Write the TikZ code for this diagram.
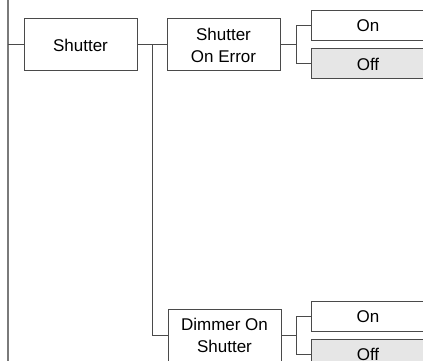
\documentclass[tikz,border=0pt]{standalone}
\usepackage{fontspec}
\setmainfont{Liberation Sans}
\definecolor{lineC}{HTML}{4A4A4A}
\definecolor{lineL}{HTML}{7A7A7A}
\definecolor{offfill}{HTML}{E6E6E6}
\begin{document}
\begin{tikzpicture}[x=1pt,y=-1pt,
  box/.style={draw=lineC, line width=1pt, fill=white, minimum width=113pt, minimum height=52pt,
    inner sep=0pt, align=center, font=\fontsize{17}{22}\selectfont},
  optbox/.style={draw=lineC, line width=1pt, fill=white, minimum width=114pt, minimum height=30pt,
    inner sep=0pt, align=center, font=\fontsize{17}{20}\selectfont},
  offbox/.style={optbox, fill=offfill},
  conn/.style={draw=lineC, line width=1pt},
  connL/.style={draw=lineL, line width=1.3pt}]
\useasboundingbox (0,0) rectangle (423,361);
\clip (0,0) rectangle (423,361);
\coordinate (ltop) at (8,-2);
\coordinate (lbot) at (8,363);
\node[box] (shutter) at (80.5,45) {Shutter};
\node[box] (soe) at (223.5,45) {Shutter\\On Error};
\node[box] (dos) at (224.5,335) {Dimmer On\\Shutter};
\node[optbox] (on1) at (368,26) {On};
\node[offbox] (off1) at (368,64) {Off};
\node[optbox] (on2) at (368,316.5) {On};
\node[offbox] (off2) at (368,354) {Off};
\draw[connL] (ltop) -- (lbot);
\draw[conn] (shutter.west) -- (shutter.west -| ltop);
\draw[conn] (shutter.east) -- (soe.west);
\coordinate (j1) at (152,45);
\draw[conn] (j1) |- (dos.west);
\draw[conn] (soe.east) -- ++(16,0) coordinate (b1);
\draw[conn] (on1.west) -| (b1) |- (off1.west);
\draw[conn] (dos.east) -- ++(15,0) coordinate (b2);
\draw[conn] (on2.west) -| (b2) |- (off2.west);
\end{tikzpicture}
\end{document}
